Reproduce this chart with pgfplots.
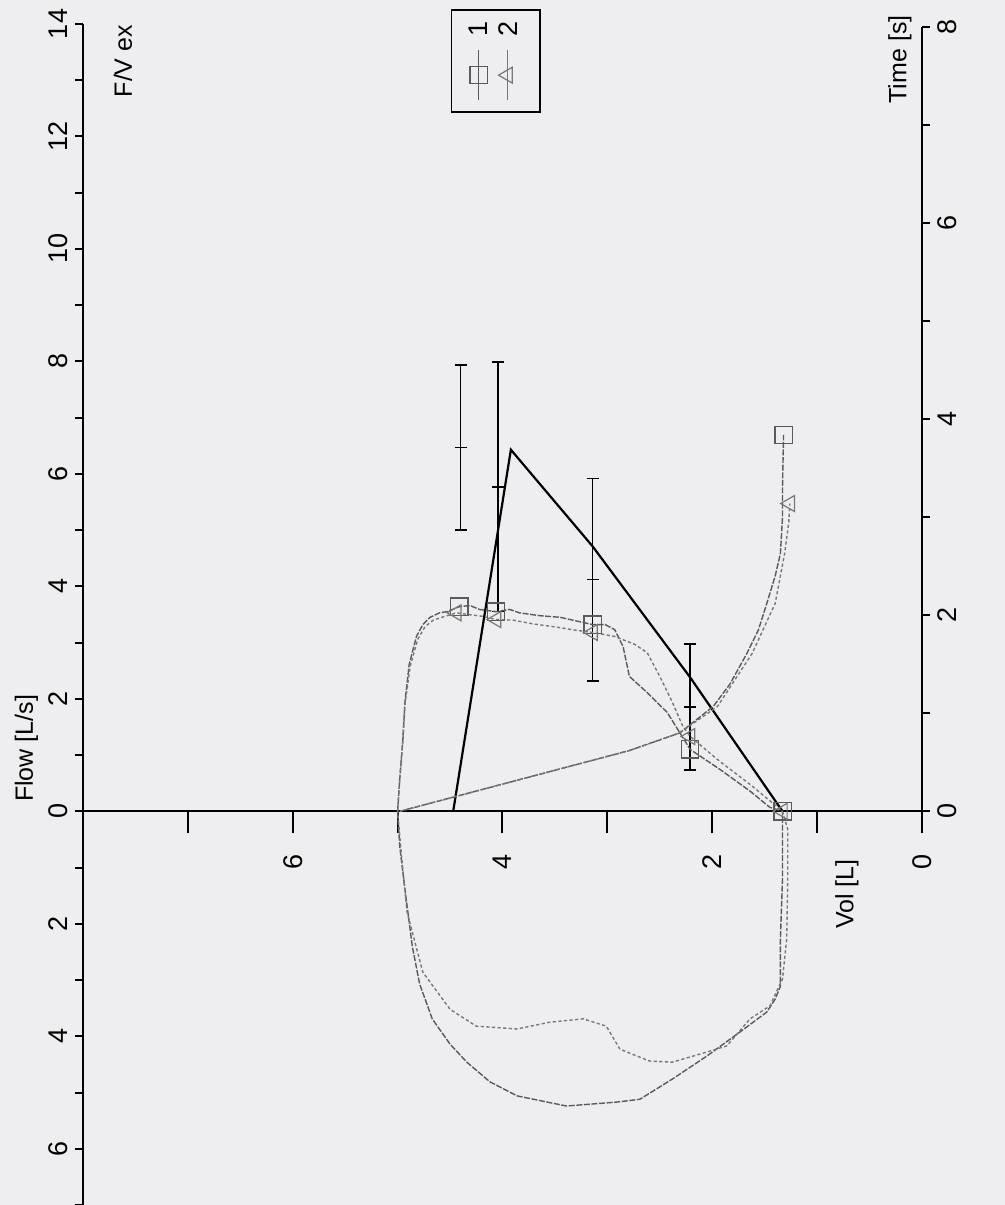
\documentclass[border=0pt]{standalone}
\usepackage{fontspec}
\setmainfont{Liberation Sans}
\usepackage{pgfplots}
\pgfplotsset{compat=1.18}

\definecolor{paper}{RGB}{238,238,240}
\definecolor{traceA}{RGB}{90,90,90}
\definecolor{traceB}{RGB}{120,120,120}
\newcommand\ticksize{\fontsize{13.5}{16}\selectfont}
\newcommand\labsize{\fontsize{12.5}{15}\selectfont}

\pgfplotsset{
  every non boxed x axis/.append style={x axis line style={-}, xtick align=outside},
  every non boxed y axis/.append style={y axis line style={-}, ytick align=outside},
  loopframe/.style={
    at={(0,0)}, anchor=south west,
    scale only axis, width=419.5pt, height=590.5pt,
    xmin=0, xmax=8, x dir=reverse,
    clip=false,
    tick align=outside,
    axis line style={-, line width=1pt, black},
  },
  meas1/.style={traceA, line width=0.7pt, dash pattern=on 3pt off 0.8pt},
  meas2/.style={traceB, line width=0.7pt, dash pattern=on 1.6pt off 1.2pt},
  mk1/.style={only marks, mark=square, mark size=4.3pt,
    mark options={solid, traceA, line width=0.6pt}},
  mk2/.style={only marks, mark=triangle, mark size=4.6pt,
    mark options={solid, traceB, line width=0.6pt, rotate=90}},
}

\begin{document}
\begin{tikzpicture}
\fill[paper] (-41.5pt,0) rectangle (461pt,602.5pt);

% flow-volume loop
\begin{axis}[
  loopframe,
  ymin=-7, ymax=14,
  axis x line=middle, axis y line=left,
  xtick align=outside, ytick align=outside,
  xtick={0,1,...,7}, xticklabels={0,,2,,4,,6,},
  ytick={-6,-4,...,14}, yticklabels={6,4,2,0,2,4,6,8,10,12,14},
  minor ytick={-7,-5,...,13},
  xtick style={/pgfplots/major tick length=11pt, line width=1pt, black},
  ytick style={/pgfplots/major tick length=4pt, line width=1pt, black},
  minor tick length=4pt,
  xticklabel style={yshift=-14pt, rotate=90, anchor=east, font=\ticksize},
  yticklabel style={rotate=90, anchor=south, font=\ticksize},
]
% predicted curve
\addplot[black, line width=1.1pt] coordinates {
  (4.47,0) (3.92,6.43) (3.14,4.71) (2.21,2.38) (1.33,0)};

% predicted values with normal range
\addplot[black, only marks, mark=-, mark size=3pt,
  mark options={line width=0.8pt},
  error bars/.cd, y dir=both, y explicit,
  error bar style={line width=0.8pt, black},
  error mark options={rotate=90, black, mark size=3pt, line width=0.8pt}]
  coordinates {
  (4.40,6.47) +- (0,1.47)
  (4.04,5.77) +- (0,2.22)
  (3.14,4.12) +- (0,1.80)
  (2.21,1.86) +- (0,1.12)};

% trial 1: expiration and inspiration
\addplot[meas1] coordinates {
  (5.00,0) (4.98,0.57) (4.95,1.28) (4.93,1.94) (4.89,2.61) (4.82,3.11)
  (4.76,3.32) (4.69,3.45) (4.60,3.53) (4.53,3.55) (4.41,3.64) (4.31,3.66)
  (4.22,3.59) (4.06,3.55) (3.93,3.59) (3.84,3.53) (3.65,3.48) (3.45,3.45)
  (3.26,3.37) (3.14,3.32) (3.02,3.32) (2.93,3.23) (2.85,2.93) (2.79,2.40)
  (2.62,2.11) (2.43,1.76) (2.31,1.40) (2.21,1.10) (1.93,0.75) (1.64,0.36)
  (1.45,0.07) (1.33,0)
  (1.33,-1.21) (1.35,-2.27) (1.35,-3.11) (1.40,-3.34) (1.48,-3.57)
  (1.74,-3.93) (2.05,-4.35) (2.38,-4.76) (2.69,-5.12) (2.91,-5.17)
  (3.39,-5.24) (3.86,-5.06) (4.12,-4.81) (4.34,-4.46) (4.50,-4.14)
  (4.67,-3.69) (4.79,-3.07) (4.86,-2.40) (4.93,-1.39) (4.98,-0.62) (5.00,0)};

% trial 2: expiration and inspiration
\addplot[meas2] coordinates {
  (5.00,0) (4.98,0.55) (4.95,1.25) (4.93,1.90) (4.88,2.58) (4.81,3.05)
  (4.74,3.28) (4.66,3.40) (4.56,3.46) (4.44,3.53) (4.33,3.50) (4.20,3.47)
  (4.06,3.41) (3.90,3.40) (3.70,3.33) (3.50,3.28) (3.30,3.22) (3.14,3.18)
  (2.93,3.11) (2.74,2.97) (2.62,2.82) (2.50,2.40) (2.38,1.94) (2.28,1.51)
  (2.21,1.33) (1.93,0.89) (1.64,0.48) (1.40,0.11) (1.33,0)
  (1.28,-0.32) (1.28,-1.21) (1.29,-2.27) (1.33,-2.98) (1.45,-3.46)
  (1.64,-3.69) (1.86,-4.17) (2.05,-4.28) (2.38,-4.46) (2.60,-4.44)
  (2.88,-4.23) (3.01,-3.82) (3.23,-3.69) (3.55,-3.75) (3.86,-3.87)
  (4.25,-3.82) (4.50,-3.52) (4.76,-2.86) (4.91,-1.79) (4.96,-0.85) (5.00,0)};

\addplot[mk1] coordinates {(4.41,3.64) (4.06,3.55) (3.14,3.32) (2.21,1.10) (1.33,0)};
\addplot[mk2] coordinates {(4.44,3.53) (4.06,3.41) (3.14,3.18) (2.21,1.33) (1.33,0)};

% key: frame, sample lines with their symbols, trial numbers
\draw[black, line width=0.8pt] (axis cs:4.485,12.43) rectangle (axis cs:3.645,14.245);
\addplot[traceA, line width=0.7pt] coordinates {(4.227,12.65) (4.227,13.53)};
\addplot[mk1] coordinates {(4.227,13.09)};
\addplot[traceB, line width=0.7pt] coordinates {(3.950,12.65) (3.950,13.53)};
\addplot[mk2] coordinates {(3.950,13.09)};
\node[rotate=90, font=\ticksize] at (axis cs:4.227,13.91) {1};
\node[rotate=90, font=\ticksize] at (axis cs:3.950,13.91) {2};

\node[rotate=90, font=\labsize] at (axis cs:8.54,1.12) {Flow [L/s]};
\node[rotate=90, font=\labsize] at (axis cs:0.716,-1.47) {Vol [L]};
\node[rotate=90, font=\labsize] at (axis cs:7.62,13.34) {F/V ex};
\end{axis}

% volume-time curves on the time scale
\begin{axis}[
  loopframe,
  ymin=-4.016, ymax=8.032,
  axis x line=none, axis y line=right,
  ytick align=outside,
  y axis line style={draw=none},
  ytick={0,2,...,8}, yticklabels={0,2,4,6,8},
  minor ytick={1,3,5,7},
  ytick style={/pgfplots/major tick length=4pt, line width=1pt, black},
  minor tick length=4pt,
  yticklabel style={rotate=90, anchor=north, font=\ticksize},
]
\draw[black, line width=1pt] (axis cs:0,0) -- (axis cs:0,8);

\addplot[meas1] coordinates {
  (4.98,0) (2.79,0.62) (2.31,0.80) (1.99,1.07) (1.83,1.30) (1.67,1.61)
  (1.56,1.85) (1.48,2.12) (1.40,2.40) (1.35,2.63) (1.33,3.00) (1.33,3.31)
  (1.32,3.84)};
\addplot[meas2] coordinates {
  (4.98,0) (2.79,0.62) (2.31,0.80) (1.95,1.07) (1.62,1.61) (1.40,2.12)
  (1.31,2.63) (1.27,2.95) (1.26,3.14)};
\addplot[mk1] coordinates {(1.32,3.84)};
\addplot[mk2] coordinates {(1.26,3.14)};

\node[rotate=90, font=\labsize] at (axis cs:0.21,7.67) {Time [s]};
\end{axis}

\pgfresetboundingbox
\path (-41.5pt,0) rectangle (461pt,602.5pt);
\end{tikzpicture}
\end{document}
